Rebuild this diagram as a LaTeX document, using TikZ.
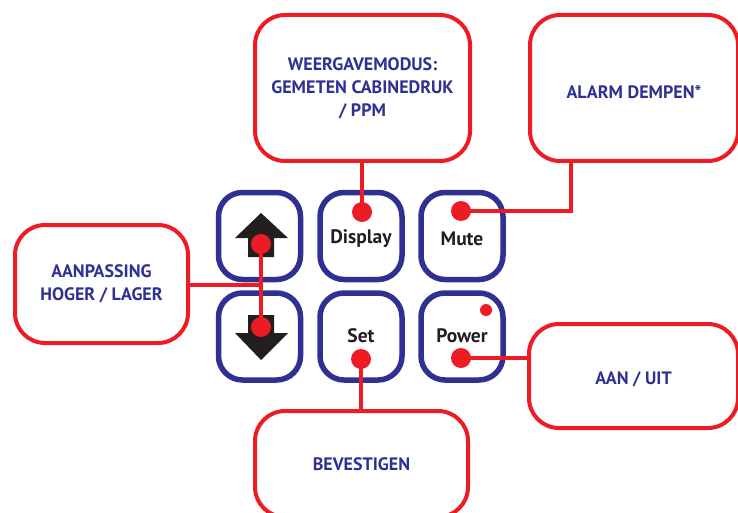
\documentclass[tikz,border=0pt]{standalone}
\usepackage{fontspec}
\setmainfont{PT Sans}
\begin{document}
\begin{tikzpicture}[x=1pt,y=-1pt,
  redbox/.style={draw=cred,line width=4pt,rounded corners=30pt,fill=white,
    text=cblue,font=\bfseries\fontsize{18}{23}\selectfont,align=center,inner sep=0pt},
  btn/.style={draw=cblue,line width=5.5pt,rounded corners=24pt,minimum width=82pt,
    minimum height=87pt,inner sep=0pt},
  btntext/.style={font=\bfseries\fontsize{19.5}{22}\selectfont,text=cblack},
  dot/.style={circle,fill=cred,minimum size=20pt,inner sep=0pt},
  link/.style={draw=cred,line width=3.5pt},
  arrowshape/.style={fill=cblack}]
\definecolor{cred}{HTML}{ED1C24}
\definecolor{cblue}{HTML}{2E3192}
\definecolor{cblack}{HTML}{231F20}
\useasboundingbox (0,0) rectangle (738,513);
% red boxes
\node[redbox,minimum width=215pt,minimum height=146pt] (weer) at (362.5,88) {WEERGAVEMODUS:\\GEMETEN CABINEDRUK\\/ PPM};
\node[redbox,minimum width=208pt,minimum height=146pt] (alarm) at (634,88) {\raisebox{-4pt}[\height][\depth]{ALARM DEMPEN*}};
\node[redbox,minimum width=173pt,minimum height=118pt] (aanp) at (101.5,284) {AANPASSING\\HOGER / LAGER};
\node[redbox,minimum width=209pt,minimum height=104pt] (aanuit) at (633.5,376) {\raisebox{-3pt}[\height][\depth]{AAN / UIT}};
\node[redbox,minimum width=213pt,minimum height=106pt] (bev) at (361.5,464) {BEVESTIGEN};
% buttons
\node[btn] (up) at (259.5,236) {};
\node[btn] (disp) at (361,236) {};
\node[btn] (mute) at (462,236) {};
\node[btn] (down) at (259.5,336.5) {};
\node[btn] (set) at (361,336.5) {};
\node[btn] (power) at (462,336.5) {};
\node[btntext] (tdisp) at (361,239) {Display};
\node[btntext] (tmute) at (462,239) {Mute};
\node[btntext] (tset) at (361,336) {Set};
\node[btntext] (tpow) at (462,336) {Power};
% arrows
\fill[arrowshape] (261,213) -- (288,238) -- (274,238) -- (274,257) -- (248,257) -- (248,238) -- (235,238) -- cycle;
\fill[arrowshape] (261,360) -- (288,333) -- (274,333) -- (274,315) -- (248,315) -- (248,333) -- (235,333) -- cycle;
% dots
\node[dot] (dup) at (261,244) {};
\node[dot] (ddown) at (261,327) {};
\node[dot] (ddisp) at (362,212) {};
\node[dot] (dmute) at (461,211) {};
\node[dot] (dset) at (361,359) {};
\node[dot] (dpow) at (461,358) {};
\node[circle,fill=cred,minimum size=12pt,inner sep=0pt] (led) at (486,310) {};
\coordinate (j1) at (261,285);
\coordinate (j2) at (571,211);
% connectors
\draw[link] (dup.center) -- (ddown.center);
\draw[link] (aanp.east |- j1) -- (j1);
\draw[link] (ddisp.center) -- (ddisp.center |- weer.south);
\draw[link] (dmute.center) -- (j2) -- (j2 |- alarm.south);
\draw[link] (dset.center) -- (dset.center |- bev.north);
\draw[link] (dpow.center) -- (dpow.center -| aanuit.west);
\end{tikzpicture}
\end{document}
